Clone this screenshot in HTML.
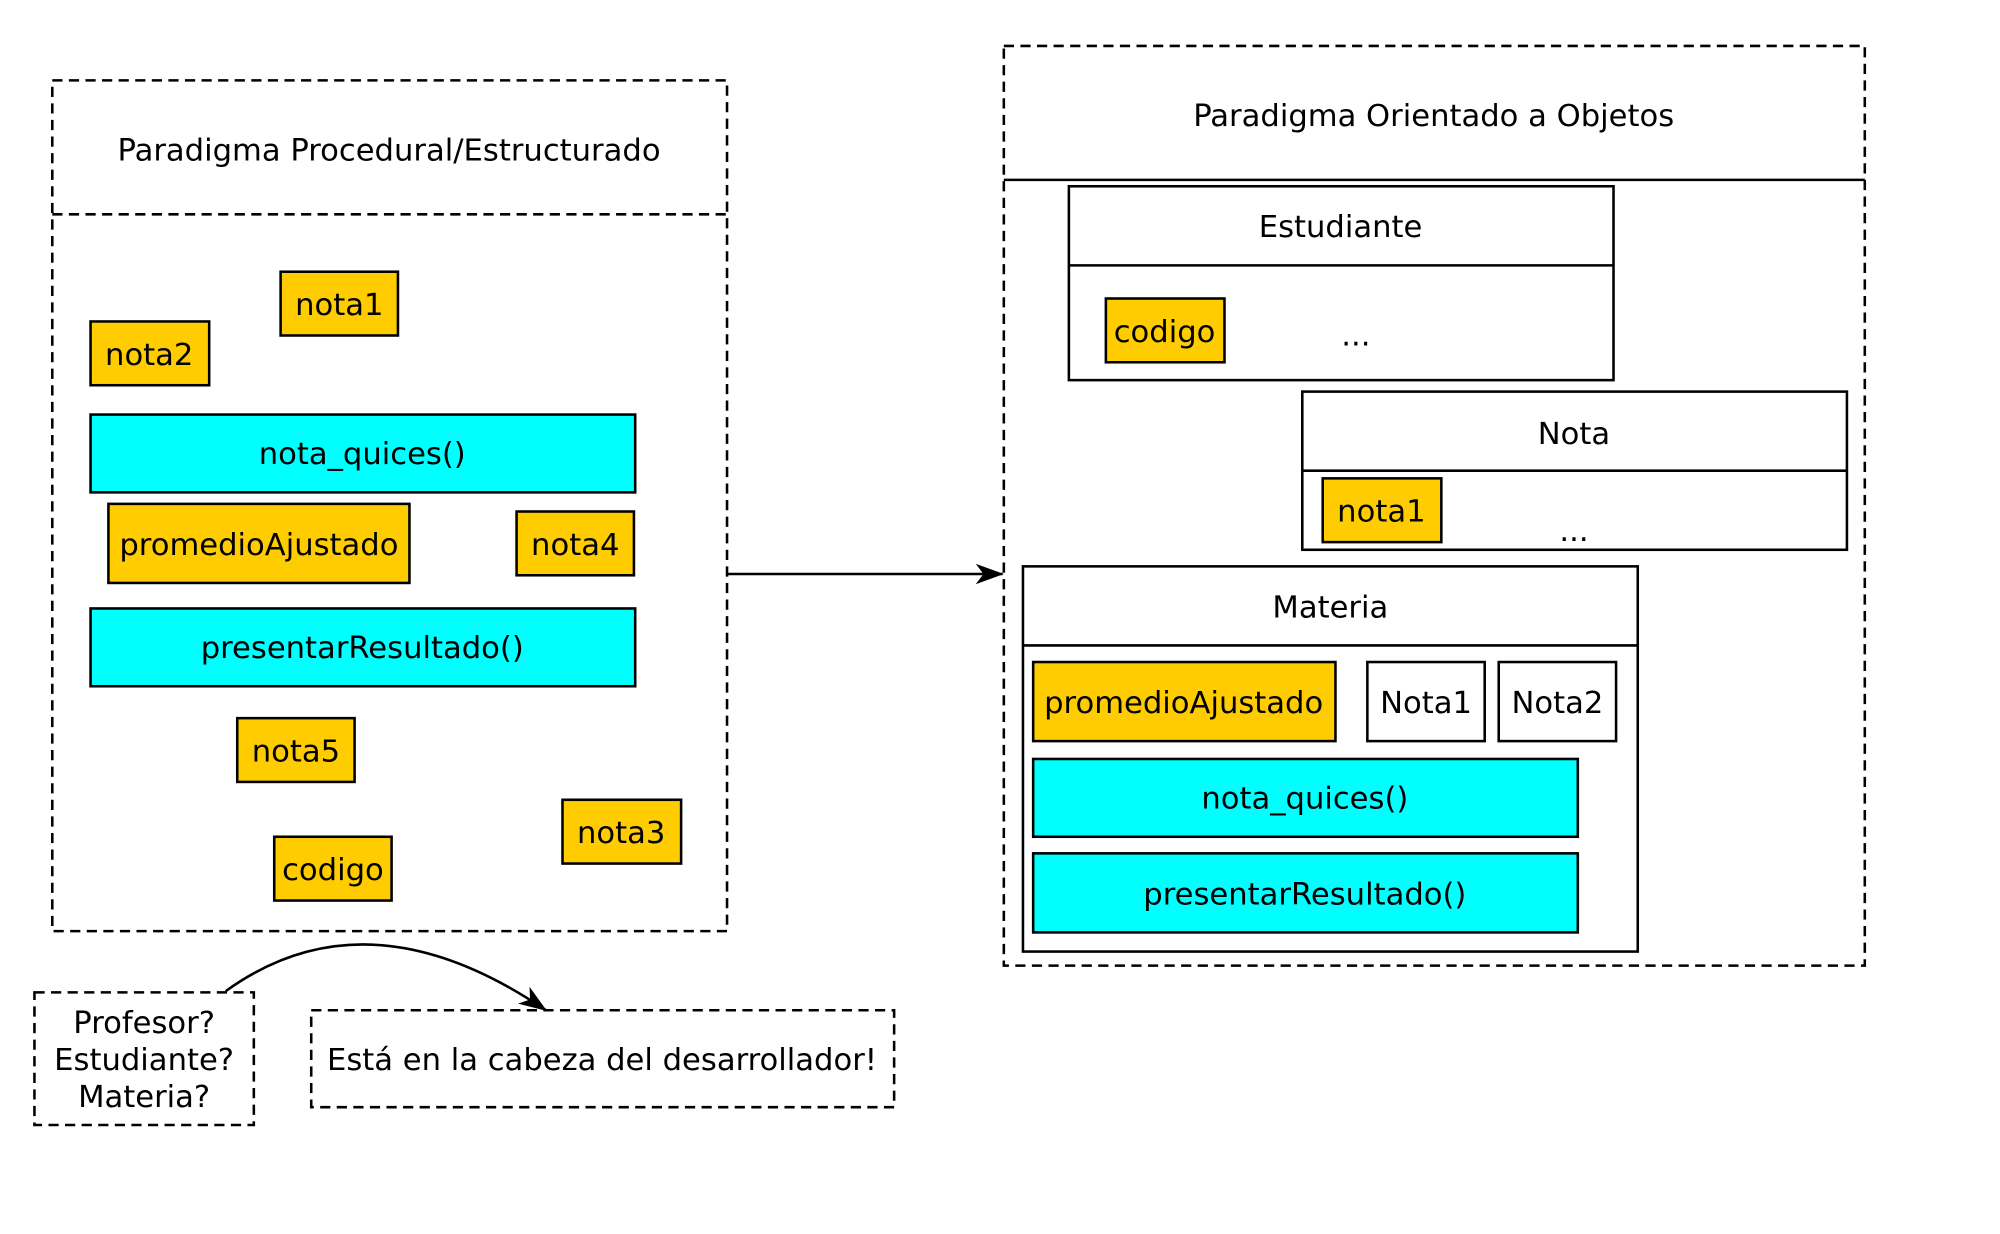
<!DOCTYPE html>
<html><head><meta charset="utf-8"><style>html,body{margin:0;padding:0;background:#fff}svg{display:block}</style></head>
<body>
<svg xmlns="http://www.w3.org/2000/svg" width="2000" height="1234" viewBox="0 0 1568 967.4" font-family="DejaVu Sans, sans-serif" font-size="24">
<defs><marker id="ah" markerWidth="22" markerHeight="16" refX="21" refY="8" orient="auto" markerUnits="userSpaceOnUse"><path d="M0,0 L22,8 L0,16 L6,8 Z" fill="#000"/></marker></defs>
<g fill="none" stroke="#000" stroke-width="2" stroke-dasharray="8,5">
<rect x="41" y="63" width="529" height="667"/>
<line x1="41" y1="168" x2="570" y2="168"/>
<rect x="787" y="36" width="675" height="721"/>
<rect x="27" y="778" width="172" height="104"/>
<rect x="244" y="792" width="457" height="76"/>
</g>
<line x1="787" y1="141" x2="1462" y2="141" stroke="#000" stroke-width="2"/>
<g text-anchor="middle" dominant-baseline="central" transform="translate(0,1.5)">
<text x="305" y="117">Paradigma Procedural/Estructurado</text>
<text x="1124" y="90">Paradigma Orientado a Objetos</text>
</g>
<g stroke="#000" stroke-width="2">
<rect x="220" y="213" width="92" height="50" fill="#ffcc00"/>
<rect x="71" y="252" width="93" height="50" fill="#ffcc00"/>
<rect x="71" y="325" width="427" height="61" fill="#00ffff"/>
<rect x="85" y="395" width="236" height="62" fill="#ffcc00"/>
<rect x="405" y="401" width="92" height="50" fill="#ffcc00"/>
<rect x="71" y="477" width="427" height="61" fill="#00ffff"/>
<rect x="186" y="563" width="92" height="50" fill="#ffcc00"/>
<rect x="441" y="627" width="93" height="50" fill="#ffcc00"/>
<rect x="215" y="656" width="92" height="50" fill="#ffcc00"/>
<rect x="838" y="146" width="427" height="152" fill="#fff"/>
<line x1="838" y1="208" x2="1265" y2="208"/>
<rect x="867" y="234" width="93" height="50" fill="#ffcc00"/>
<rect x="1021" y="307" width="427" height="124" fill="#fff"/>
<line x1="1021" y1="369" x2="1448" y2="369"/>
<rect x="1037" y="375" width="93" height="50" fill="#ffcc00"/>
<rect x="802" y="444" width="482" height="302" fill="#fff"/>
<line x1="802" y1="506" x2="1284" y2="506"/>
<rect x="810" y="519" width="237" height="62" fill="#ffcc00"/>
<rect x="1072" y="519" width="92" height="62" fill="#fff"/>
<rect x="1175" y="519" width="92" height="62" fill="#fff"/>
<rect x="810" y="595" width="427" height="61" fill="#00ffff"/>
<rect x="810" y="669" width="427" height="62" fill="#00ffff"/>
</g>
<g text-anchor="middle" dominant-baseline="central" transform="translate(0,1.5)">
<text x="266" y="238">nota1</text>
<text x="117" y="277">nota2</text>
<text x="284" y="355">nota_quices()</text>
<text x="203" y="426">promedioAjustado</text>
<text x="451" y="426">nota4</text>
<text x="284" y="507">presentarResultado()</text>
<text x="232" y="588">nota5</text>
<text x="487" y="652">nota3</text>
<text x="261" y="681">codigo</text>
<text x="1051" y="177">Estudiante</text>
<text x="913" y="259">codigo</text>
<text x="1063" y="262">...</text>
<text x="1234" y="339">Nota</text>
<text x="1083" y="400">nota1</text>
<text x="1234" y="415">...</text>
<text x="1043" y="475">Materia</text>
<text x="928" y="550">promedioAjustado</text>
<text x="1118" y="550">Nota1</text>
<text x="1221" y="550">Nota2</text>
<text x="1023" y="625">nota_quices()</text>
<text x="1023" y="700">presentarResultado()</text>
<text x="113" y="801">Profesor?</text>
<text x="113" y="830">Estudiante?</text>
<text x="113" y="859">Materia?</text>
<text x="472" y="830">Está en la cabeza del desarrollador!</text>
</g>
<line x1="570" y1="450" x2="786" y2="450" stroke="#000" stroke-width="2" marker-end="url(#ah)"/>
<path d="M177,777 Q288,697 428,792" fill="none" stroke="#000" stroke-width="2" marker-end="url(#ah)"/>
</svg>
</body></html>
